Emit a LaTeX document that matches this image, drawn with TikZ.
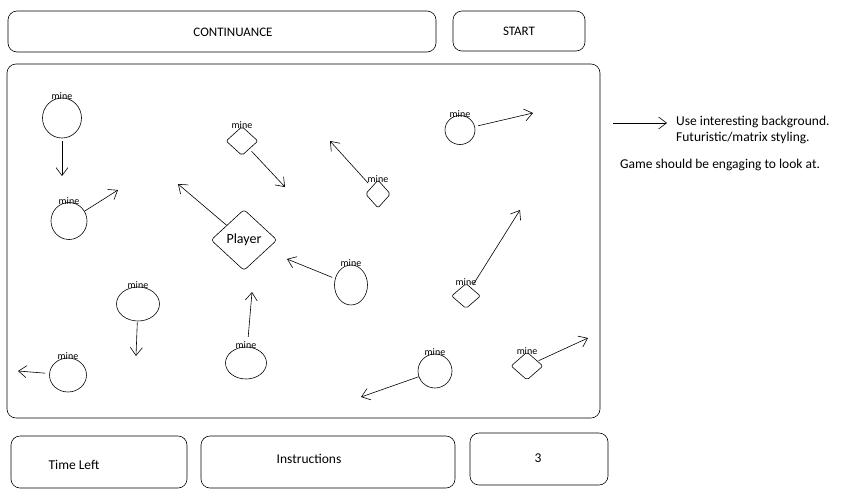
\documentclass[tikz,border=0pt]{standalone}
\usepackage{fontspec}
\setmainfont{Carlito}
\usetikzlibrary{shapes.geometric,arrows.meta,positioning}

\begin{document}
\begin{tikzpicture}[x=1pt,y=-1pt,
	box/.style={draw, rounded corners=9pt, line width=0.6pt, font=\fontsize{13}{15}\selectfont},
	mine/.style={draw, ellipse, inner sep=0pt, line width=0.6pt,
		label={[tag,label distance=-2.5pt]above:mine}},
	minediam/.style={draw, diamond, inner sep=0pt, line width=0.6pt, rounded corners=2pt,
		label={[tag,label distance=-3pt]above:mine}},
	tag/.style={font=\fontsize{10}{10}\selectfont, inner sep=0pt},
	note/.style={font=\fontsize{13.5}{16}\selectfont, inner sep=0pt, align=left},
	move/.style={-{Straight Barb[length=8pt,width=12pt]}, line width=0.6pt, shorten <=3pt}]
	
	\useasboundingbox (0,0) rectangle (843,496);
	
	% top bar
	\node[box, minimum width=428pt, minimum height=41pt] (cont) at (222,31.5) {};
	\node[box, draw=none] (conttxt) at (233,32) {CONTINUANCE};
	\node[box, minimum width=132pt, minimum height=40pt] (start) at (519,31) {\raisebox{-2pt}{START}};
	
	% playing field
	\node[box, minimum width=593pt, minimum height=354pt] (field) at (303.5,241) {};
	
	% bottom bar
	\node[box, minimum width=176pt, minimum height=52pt] (time) at (99,462) {};
	\node[note] (timetxt) at (74,465) {Time Left};
	\node[box, minimum width=254pt, minimum height=52pt] (instr) at (328,462) {};
	\node[note] (instrtxt) at (309,459) {Instructions};
	\node[box, minimum width=138pt, minimum height=52pt] (lives) at (539,459) {};
	\node[note] (livestxt) at (538,458) {3};
	
	% player
	\node[draw, diamond, inner sep=0pt, minimum width=66pt, minimum height=61pt, rounded corners=3pt,
		line width=0.6pt, font=\fontsize{14}{14}\selectfont] (player) at (244,240) {Player};
	\coordinate (playerend) at (178,184);
	\draw[move, shorten <=0pt] (player) -- (playerend);
	
	% mines
	\node[mine, minimum width=39pt, minimum height=40pt] (m1) at (62,118) {};
	\node[mine, minimum width=36pt, minimum height=37pt] (m2) at (69,221) {};
	\node[minediam, minimum width=32pt, minimum height=29pt] (m3) at (242,141) {};
	\node[minediam, minimum width=25pt, minimum height=28pt] (m4) at (378,194) {};
	\node[mine, minimum width=30pt, minimum height=29pt] (m5) at (460,130) {};
	\node[mine, minimum width=33pt, minimum height=40pt] (m6) at (351,285) {};
	\node[minediam, minimum width=29pt, minimum height=25pt] (m7) at (466,296) {};
	\node[mine, minimum width=43pt, minimum height=34pt] (m8) at (138,304) {};
	\node[mine, minimum width=41pt, minimum height=32pt] (m9) at (246,363) {};
	\node[mine, minimum width=37pt, minimum height=34pt] (m10) at (68,375) {};
	\node[mine, minimum width=34pt, minimum height=34pt] (m11) at (435,371) {};
	\node[minediam, minimum width=32pt, minimum height=28pt] (m12) at (527,366) {};
	
	% where the mines head
	\coordinate (m1end) at (62,176);
	\coordinate (m2end) at (118,190);
	\coordinate (m3end) at (285,187);
	\coordinate (m4end) at (330,141);
	\coordinate (m5end) at (533,113);
	\coordinate (m6end) at (287,259);
	\coordinate (m7end) at (520,210);
	\coordinate (m8end) at (136,356);
	\coordinate (m9end) at (252,292);
	\coordinate (m10end) at (18,371);
	\coordinate (m11end) at (361,397);
	\coordinate (m12end) at (588,338);
	
	\draw[move] (m1) -- (m1end);
	\draw[move, shorten <=0pt] (m2) -- (m2end);
	\draw[move] (m3) -- (m3end);
	\draw[move, shorten <=5pt] (m4) -- (m4end);
	\draw[move] (m5) -- (m5end);
	\draw[move] (m6) -- (m6end);
	\draw[move, shorten <=4pt] (m7) -- (m7end);
	\draw[move, shorten <=1pt] (m8) -- (m8end);
	\draw[move, shorten <=10pt] (m9) -- (m9end);
	\draw[move, shorten <=4pt] (m10) -- (m10end);
	\draw[move, shorten <=0pt] (m11) -- (m11end);
	\draw[move, shorten <=1pt] (m12) -- (m12end);
	
	% side notes
	\node[note, anchor=west] (notes) at (676,130) {Use interesting background.\\ Futuristic/matrix styling.};
	\coordinate (notestart) at (613,123);
	\draw[move, shorten <=0pt] (notestart) -- ([xshift=-9pt]notes.west |- notestart);
	\node[note] (engage) at (720,165) {Game should be engaging to look at.};
	
\end{tikzpicture}
\end{document}
